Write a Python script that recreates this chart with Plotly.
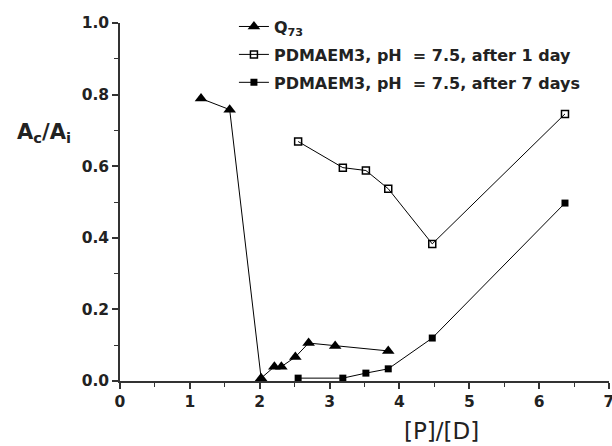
import plotly.graph_objects as go

q73_x = [1.16, 1.57, 2.02, 2.21, 2.31, 2.51, 2.70, 3.08, 3.84]
q73_y = [0.789, 0.758, 0.008, 0.040, 0.040, 0.067, 0.106, 0.098, 0.084]

day1_x = [2.55, 3.19, 3.52, 3.84, 4.47, 6.37]
day1_y = [0.669, 0.596, 0.588, 0.537, 0.383, 0.746]

day7_x = [2.55, 3.19, 3.52, 3.84, 4.47, 6.37]
day7_y = [0.008, 0.008, 0.022, 0.034, 0.120, 0.497]

names = ["Q<sub>73</sub>",
         "PDMAEM3, pH  = 7.5, after 1 day",
         "PDMAEM3, pH  = 7.5, after 7 days"]

FONT = "DejaVu Sans"
INK = "#222"

fig = go.Figure()
fig.add_trace(go.Scatter(x=q73_x, y=q73_y, mode="lines+markers", name=names[0],
                         legend="legend", showlegend=True,
                         line=dict(color="black", width=1),
                         marker=dict(symbol="triangle-up", size=11, color="black"),
                         cliponaxis=False))
fig.add_trace(go.Scatter(x=day1_x, y=day1_y, mode="lines+markers", name=names[1],
                         legend="legend2", showlegend=True,
                         line=dict(color="black", width=1),
                         marker=dict(symbol="square-open", size=7, color="black",
                                     line=dict(width=1.5)),
                         cliponaxis=False))
fig.add_trace(go.Scatter(x=day7_x, y=day7_y, mode="lines+markers", name=names[2],
                         legend="legend3", showlegend=True,
                         line=dict(color="black", width=1),
                         marker=dict(symbol="square", size=7, color="black"),
                         cliponaxis=False))

tickfont = dict(family=FONT, size=15.5, color=INK, weight="bold")
axis_common = dict(showline=True, linecolor="#333", linewidth=1.5, ticks="outside",
                   ticklen=6, tickwidth=1.5, tickcolor="#333", showgrid=False,
                   zeroline=False, mirror=False, tickfont=tickfont,
                   ticklabeloverflow="allow")

fig.update_xaxes(range=[0, 7], dtick=1, minor=dict(dtick=0.5, ticks="outside", ticklen=4,
                 tickwidth=1.2, tickcolor="#333"), **axis_common)
fig.update_yaxes(range=[0, 1], dtick=0.2, tickformat=".1f",
                 minor=dict(dtick=0.1, ticks="outside", ticklen=4, tickwidth=1.2,
                            tickcolor="#333"), **axis_common)

legfont = dict(family=FONT, size=16, color=INK, weight="bold")
def leg(y):
    return dict(x=0.233, y=y, xanchor="left", yanchor="middle",
                bgcolor="rgba(0,0,0,0)", font=legfont, itemwidth=30)

fig.update_layout(
    width=612, height=446,
    margin=dict(l=120, r=3, t=23, b=65, autoexpand=False),
    plot_bgcolor="white", paper_bgcolor="white",
    font=dict(family=FONT, color=INK),
    showlegend=True,
    legend=leg(0.990),
    legend2=leg(0.912),
    legend3=leg(0.834),
    annotations=[
        dict(text="<b>A<sub>c</sub>/A<sub>i</sub></b>", xref="paper", yref="paper",
             x=-0.156, y=0.693, xanchor="center", yanchor="middle", showarrow=False,
             font=dict(family=FONT, size=21, color=INK)),
        dict(text="[P]/[D]", xref="paper", yref="paper",
             x=0.658, y=-0.140, xanchor="center", yanchor="middle", showarrow=False,
             font=dict(family=FONT, size=23, color=INK)),
    ],
)

fig.write_html("out.html", config={"displayModeBar": False},
               post_script="document.body.style.margin='0';")
